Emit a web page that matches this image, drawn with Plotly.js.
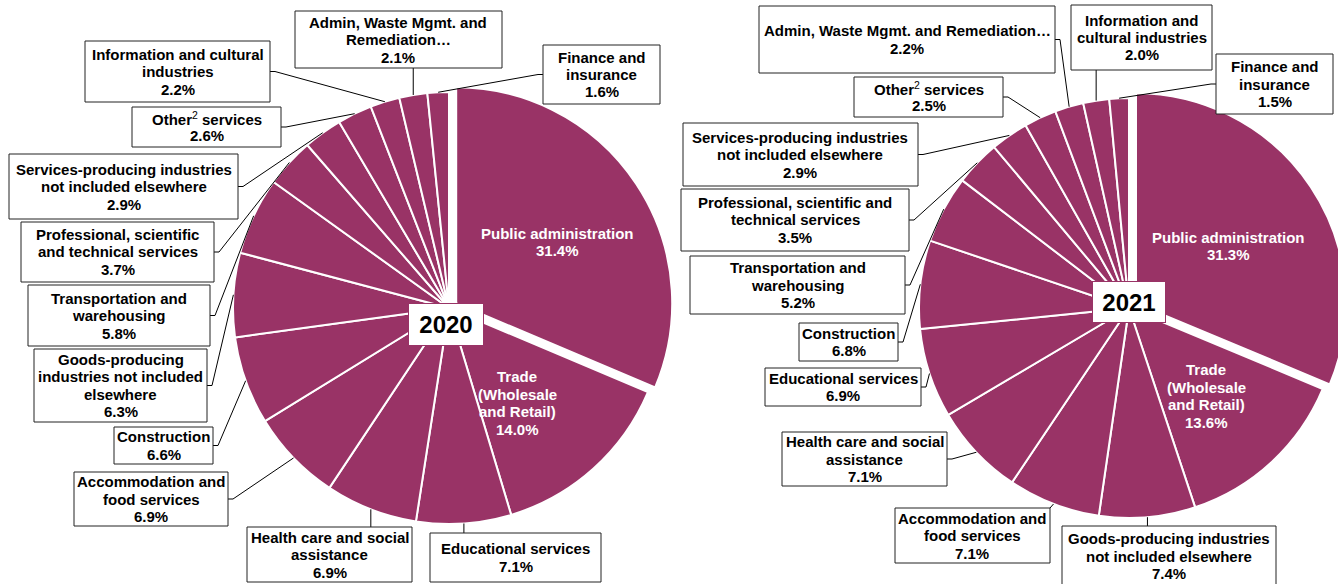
<!DOCTYPE html>
<html><head><meta charset="utf-8">
<script src="https://cdn.plot.ly/plotly-3.0.1.min.js"></script>
<style>
html,body{margin:0;padding:0;overflow:hidden;background:#fff;width:1338px;height:584px}
#chart{width:1350px;height:584px}
</style>
</head><body><div id="chart"></div>
<script>
// ---------------- DATA ----------------
const years = ['2020', '2021'];

const categories2020 = [
  'Public administration', 'Trade (Wholesale and Retail)', 'Educational services',
  'Health care and social assistance', 'Accommodation and food services', 'Construction',
  'Goods-producing industries not included elsewhere', 'Transportation and warehousing',
  'Professional, scientific and technical services', 'Services-producing industries not included elsewhere',
  'Other services', 'Information and cultural industries', 'Admin, Waste Mgmt. and Remediation…',
  'Finance and insurance'
];
const values2020 = [31.4, 14.0, 7.1, 6.9, 6.9, 6.6, 6.3, 5.8, 3.7, 2.9, 2.6, 2.2, 2.1, 1.6];

const categories2021 = [
  'Public administration', 'Trade (Wholesale and Retail)', 'Goods-producing industries not included elsewhere',
  'Accommodation and food services', 'Health care and social assistance', 'Educational services',
  'Construction', 'Transportation and warehousing', 'Professional, scientific and technical services',
  'Services-producing industries not included elsewhere', 'Other services',
  'Admin, Waste Mgmt. and Remediation…', 'Information and cultural industries', 'Finance and insurance'
];
const values2021 = [31.3, 13.6, 7.4, 7.1, 7.1, 6.9, 6.8, 5.2, 3.5, 2.9, 2.5, 2.2, 2.0, 1.5];

const pulledCategory = 'Public administration';

// ---------------- LAYOUT SETTINGS (pixels) ----------------
const W = 1350, H = 584;
const COLOR = '#993366';
const FONT = 'Liberation Sans, Arial, sans-serif';
const LINE = 17.5;
const PULL = 0.04;

const pies = [
  {
    year: years[0], labels: categories2020, values: values2020, cx: 449, cy: 308, r: 216,
    yearBox: {x: 446, y: 325, w: 74, h: 41},
    inside: {
      'Public administration': {x: 557, y: 242, lines: ['Public administration']},
      'Trade (Wholesale and Retail)': {x: 517, y: 403, lines: ['Trade', '(Wholesale', 'and Retail)']}
    },
    boxes: {
      'Educational services': {b: [430, 533, 601, 582], a: 't', lines: ['Educational services']},
      'Health care and social assistance': {b: [247, 527, 412, 582], a: 't', lines: ['Health care and social', 'assistance']},
      'Accommodation and food services': {b: [74, 472, 228, 526], a: 'r', lines: ['Accommodation and', 'food services']},
      'Construction': {b: [114, 427, 213, 464], a: 'r', lines: ['Construction']},
      'Goods-producing industries not included elsewhere': {b: [34, 349, 207, 422], a: 'r', lines: ['Goods-producing', 'industries not included', 'elsewhere']},
      'Transportation and warehousing': {b: [28, 285, 210, 346], a: 'r', lines: ['Transportation and', 'warehousing']},
      'Professional, scientific and technical services': {b: [21, 222, 214, 282], a: 'r', lines: ['Professional, scientific', 'and technical services']},
      'Services-producing industries not included elsewhere': {b: [9, 154, 238, 219], a: 'r', lines: ['Services-producing industries', 'not included elsewhere']},
      'Other services': {b: [132, 107, 281, 147], a: 'r', lines: ['Other<sup>2</sup> services']},
      'Information and cultural industries': {b: [85, 41, 270, 102], a: 'r', lines: ['Information and cultural', 'industries']},
      'Admin, Waste Mgmt. and Remediation…': {b: [295, 11, 502, 68], a: 'b', lines: ['Admin, Waste Mgmt. and', 'Remediation…']},
      'Finance and insurance': {b: [543, 45, 660, 104], a: 'l', lines: ['Finance and', 'insurance']}
    }
  },
  {
    year: years[1], labels: categories2021, values: values2021, cx: 1129, cy: 308, r: 210,
    yearBox: {x: 1129, y: 302, w: 72, h: 40},
    inside: {
      'Public administration': {x: 1228, y: 246, lines: ['Public administration']},
      'Trade (Wholesale and Retail)': {x: 1206, y: 396, lines: ['Trade', '(Wholesale', 'and Retail)']}
    },
    boxes: {
      'Goods-producing industries not included elsewhere': {b: [1062, 526, 1276, 586], a: 't', lines: ['Goods-producing industries', 'not included elsewhere']},
      'Accommodation and food services': {b: [895, 508, 1050, 563], a: 't', lines: ['Accommodation and', 'food services']},
      'Health care and social assistance': {b: [782, 432, 947, 486], a: 'r', lines: ['Health care and social', 'assistance']},
      'Educational services': {b: [765, 368, 921, 406], a: 'r', lines: ['Educational services']},
      'Construction': {b: [799, 323, 898, 361], a: 'r', lines: ['Construction']},
      'Transportation and warehousing': {b: [690, 256, 905, 314], a: 'r', lines: ['Transportation and', 'warehousing']},
      'Professional, scientific and technical services': {b: [681, 189, 909, 251], a: 'r', lines: ['Professional, scientific and', 'technical services']},
      'Services-producing industries not included elsewhere': {b: [683, 123, 918, 186], a: 'r', lines: ['Services-producing industries', 'not included elsewhere']},
      'Other services': {b: [854, 77, 1003, 117], a: 'r', lines: ['Other<sup>2</sup> services']},
      'Admin, Waste Mgmt. and Remediation…': {b: [759, 6, 1055, 73], a: 'r', lines: ['Admin, Waste Mgmt. and Remediation…']},
      'Information and cultural industries': {b: [1071, 5, 1212, 70], a: 'b', lines: ['Information and', 'cultural industries']},
      'Finance and insurance': {b: [1216, 54, 1333, 114], a: 'l', lines: ['Finance and', 'insurance']}
    }
  }
];

// ---------------- HELPERS ----------------
const px = x => x / W;
const py = y => 1 - y / H;

function midAngle(values, i) {
  const tot = values.reduce((s, v) => s + v, 0);
  let cum = 0;
  for (let j = 0; j < i; j++) cum += values[j];
  return (cum + values[i] / 2) / tot * 2 * Math.PI; // clockwise from 12 o'clock
}

const traces = [];
const shapes = [];
const boxShapes = [];
const annotations = [];

function textLines(xc, yc, lines, color) {
  const n = lines.length;
  lines.forEach((t, k) => {
    annotations.push({
      xref: 'paper', yref: 'paper', x: px(xc), y: py(yc + (k - (n - 1) / 2) * LINE),
      xanchor: 'center', yanchor: 'middle', showarrow: false,
      text: '<b>' + t.replace('<sup>2</sup>', '</b><sup>2</sup><b>') + '</b>',
      font: {family: FONT, size: 15, color: color}
    });
  });
}

pies.forEach(p => {
  const half = p.r * (1 + PULL);
  traces.push({
    type: 'pie', labels: p.labels, values: p.values, sort: false, direction: 'clockwise', rotation: 0,
    pull: p.labels.map(l => l === pulledCategory ? PULL : 0),
    marker: {colors: p.labels.map(() => COLOR), line: {color: '#ffffff', width: 2}},
    textinfo: 'none', hoverinfo: 'label+percent', showlegend: false,
    domain: {x: [px(p.cx - half), px(p.cx + half)], y: [py(p.cy + half), py(p.cy - half)]}
  });

  p.labels.forEach((lab, i) => {
    const pct = p.values[i].toFixed(1) + '%';
    if (p.inside[lab]) {
      const s = p.inside[lab];
      textLines(s.x, s.y, s.lines.concat([pct]), '#ffffff');
      return;
    }
    const bx = p.boxes[lab];
    if (!bx) return;
    const [x0, y0, x1, y1] = bx.b;
    const a = midAngle(p.values, i);
    const tx = p.cx + p.r * Math.sin(a), ty = p.cy - p.r * Math.cos(a);
    const ym = (y0 + y1) / 2;
    let pts;
    if (bx.a === 'r') pts = [[x1, ym], [x1 + 5, ym], [tx, ty]];
    else if (bx.a === 'l') pts = [[x0, ym], [x0 - 5, ym], [tx, ty]];
    else if (bx.a === 't') { const sx = Math.min(Math.max(tx, x0), x1); pts = [[sx, y0], [tx, ty]]; }
    else { const sx = Math.min(Math.max(tx, x0), x1); pts = [[sx, y1], [tx, ty]]; }
    shapes.push({
      type: 'path', xref: 'paper', yref: 'paper',
      path: pts.map((q, k) => (k ? 'L' : 'M') + px(q[0]) + ',' + py(q[1])).join(' '),
      line: {color: '#000000', width: 1}
    });
    boxShapes.push({
      type: 'rect', xref: 'paper', yref: 'paper', x0: px(x0), x1: px(x1), y0: py(y1), y1: py(y0),
      line: {color: '#222222', width: 1}, fillcolor: '#ffffff'
    });
    textLines((x0 + x1) / 2, ym, bx.lines.concat([pct]), '#000000');
  });

  annotations.push({
    xref: 'paper', yref: 'paper', x: px(p.yearBox.x), y: py(p.yearBox.y),
    xanchor: 'center', yanchor: 'middle', showarrow: false,
    text: '<b>' + p.year + '</b>', font: {family: FONT, size: 24, color: '#000000'},
    bgcolor: '#ffffff', bordercolor: COLOR, borderwidth: 1, borderpad: 0,
    width: p.yearBox.w, height: p.yearBox.h
  });
});

const layout = {
  width: W, height: H,
  margin: {l: 0, r: 0, t: 0, b: 0, pad: 0},
  paper_bgcolor: '#ffffff', plot_bgcolor: '#ffffff',
  showlegend: false,
  font: {family: FONT},
  shapes: shapes.concat(boxShapes),
  annotations: annotations
};

Plotly.newPlot('chart', traces, layout, {displayModeBar: false, staticPlot: true});
</script>
</body></html>
